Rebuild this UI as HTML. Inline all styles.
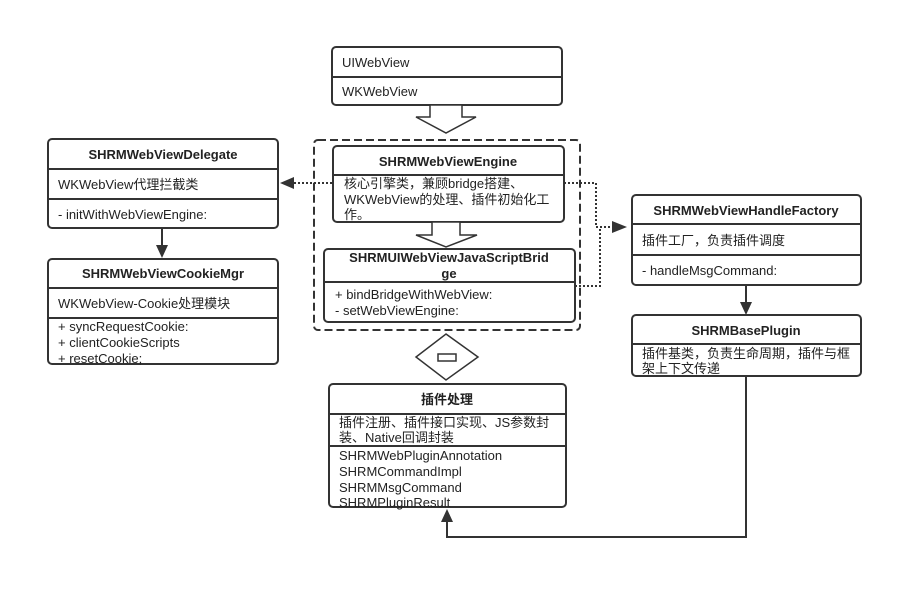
<!DOCTYPE html>
<html><head><meta charset="utf-8"><style>
html,body{margin:0;padding:0;background:#fff;}
svg text{font-family:"Liberation Sans","Noto Sans CJK SC",sans-serif;font-size:13px;fill:#222;}
svg text.b{font-weight:bold;}
</style></head><body>
<svg width="924" height="600" viewBox="0 0 924 600" xmlns="http://www.w3.org/2000/svg">
<g fill="#fff" stroke="#333" stroke-width="2">
<!-- UIWebView -->
<rect x="332" y="47" width="230" height="58" rx="4"/>
<line x1="332" y1="77" x2="562" y2="77"/>
<!-- hollow arrow -->
<polygon points="430,105 462,105 462,117 476,117 446,133 416,117 430,117" stroke-width="1.5"/>
<!-- dashed container -->
<rect x="314" y="140" width="266" height="190" rx="4" fill="none" stroke-dasharray="8,4"/>
<!-- Engine -->
<rect x="333" y="146" width="231" height="76" rx="4"/>
<line x1="333" y1="175" x2="564" y2="175"/>
<polygon points="432,222 460,222 460,235 477,235 446,247 416,235 432,235" stroke-width="1.5"/>
<!-- Bridge -->
<rect x="324" y="249" width="251" height="73" rx="4"/>
<line x1="324" y1="282" x2="575" y2="282"/>
<!-- double arrow -->
<polygon points="446,334 478,357 446,380 416,357" stroke-width="1.5"/>
<polygon points="438,354 456,354 456,361 438,361" stroke-width="1.5"/>
<!-- plugin -->
<rect x="329" y="384" width="237" height="123" rx="4"/>
<line x1="329" y1="414" x2="566" y2="414"/>
<line x1="329" y1="446" x2="566" y2="446"/>
<!-- Delegate -->
<rect x="48" y="139" width="230" height="89" rx="4"/>
<line x1="48" y1="169" x2="278" y2="169"/>
<line x1="48" y1="199" x2="278" y2="199"/>
<!-- CookieMgr -->
<rect x="48" y="259" width="230" height="105" rx="4"/>
<line x1="48" y1="288" x2="278" y2="288"/>
<line x1="48" y1="318" x2="278" y2="318"/>
<!-- Factory -->
<rect x="632" y="195" width="229" height="90" rx="4"/>
<line x1="632" y1="224" x2="861" y2="224"/>
<line x1="632" y1="255" x2="861" y2="255"/>
<!-- BasePlugin -->
<rect x="632" y="315" width="229" height="61" rx="4"/>
<line x1="632" y1="344" x2="861" y2="344"/>
</g>
<!-- solid arrows -->
<g stroke="#333" stroke-width="2" fill="none">
<line x1="162" y1="228" x2="162" y2="246"/>
<line x1="746" y1="285" x2="746" y2="303"/>
<polyline points="746,376 746,537 447,537 447,522"/>
</g>
<g fill="#333">
<polygon points="156,245 168,245 162,258"/>
<polygon points="740,302 752,302 746,315"/>
<polygon points="441,522 453,522 447,509"/>
<polygon points="280,183 294,177 294,189"/>
<polygon points="612,221 612,233 627,227"/>
</g>
<!-- dotted -->
<g stroke="#333" stroke-width="2" fill="none" stroke-dasharray="2,2">
<line x1="294" y1="183" x2="333" y2="183"/>
<polyline points="564,183 596,183 596,227 612,227"/>
<polyline points="575,286 600,286 600,227"/>
</g>
<!-- texts -->
<text x="342" y="67">UIWebView</text>
<text x="342" y="96">WKWebView</text>
<text x="448" y="166" class="b" text-anchor="middle">SHRMWebViewEngine</text>
<text x="344" y="188">核心引擎类，兼顾bridge搭建、</text>
<text x="344" y="204">WKWebView的处理、插件初始化工</text>
<text x="344" y="219">作。</text>
<text x="449" y="262" class="b" text-anchor="middle">SHRMUIWebViewJavaScriptBrid</text>
<text x="449" y="278" class="b" text-anchor="middle">ge</text>
<text x="335" y="299">+ bindBridgeWithWebView:</text>
<text x="335" y="315">- setWebViewEngine:</text>
<text x="447" y="404" class="b" text-anchor="middle">插件处理</text>
<text x="339" y="427">插件注册、插件接口实现、JS参数封</text>
<text x="339" y="442">装、Native回调封装</text>
<text x="339" y="460">SHRMWebPluginAnnotation</text>
<text x="339" y="476">SHRMCommandImpl</text>
<text x="339" y="492">SHRMMsgCommand</text>
<text x="339" y="507">SHRMPluginResult</text>
<text x="163" y="159" class="b" text-anchor="middle">SHRMWebViewDelegate</text>
<text x="58" y="189">WKWebView代理拦截类</text>
<text x="58" y="219">- initWithWebViewEngine:</text>
<text x="163" y="278" class="b" text-anchor="middle">SHRMWebViewCookieMgr</text>
<text x="58" y="308">WKWebView-Cookie处理模块</text>
<text x="58" y="331">+ syncRequestCookie:</text>
<text x="58" y="347">+ clientCookieScripts</text>
<text x="58" y="363">+ resetCookie;</text>
<text x="746" y="215" class="b" text-anchor="middle">SHRMWebViewHandleFactory</text>
<text x="642" y="245">插件工厂，负责插件调度</text>
<text x="642" y="275">- handleMsgCommand:</text>
<text x="746" y="335" class="b" text-anchor="middle">SHRMBasePlugin</text>
<text x="642" y="358">插件基类，负责生命周期，插件与框</text>
<text x="642" y="373">架上下文传递</text>
</svg>
</body></html>
